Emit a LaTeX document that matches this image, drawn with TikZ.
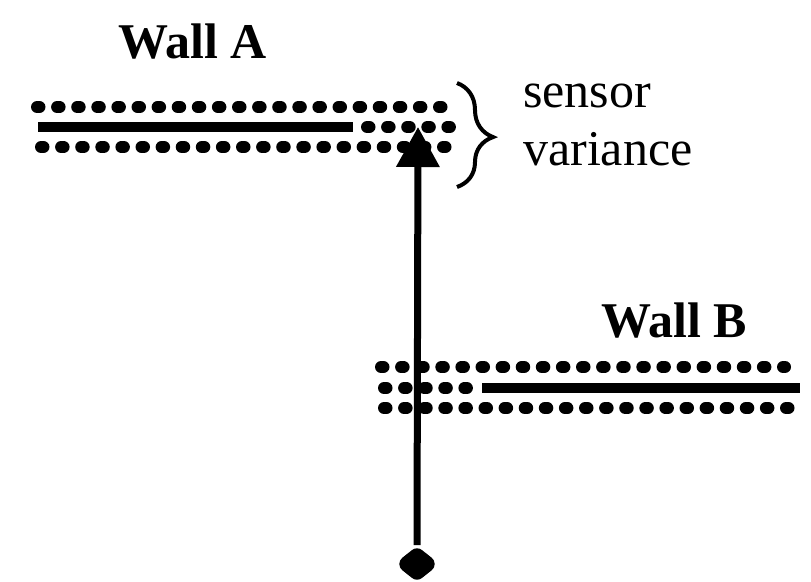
\documentclass[tikz,border=0pt]{standalone}
\usepackage{fontspec}
\setmainfont{Liberation Serif}
\usetikzlibrary{shapes.geometric, arrows.meta, positioning, decorations.pathreplacing}
\tikzset{
  wall/.style={line width=10pt},
  dotrow/.style={line width=12pt, line cap=round, dash pattern=on 2.5pt off 17.6pt},
  label/.style={font=\fontsize{50}{60}\selectfont, inner sep=0pt},
  wallname/.style={label, font=\fontsize{50}{60}\selectfont\bfseries},
  robot/.style={diamond, draw, fill=white, line width=16pt, line join=round, minimum width=26pt, minimum height=22pt, inner sep=0pt},
  ray/.style={line width=7pt, -{Triangle[length=40pt, width=42pt]}},
}

\begin{document}
\begin{tikzpicture}[x=1pt, y=-1pt]
  \useasboundingbox (0,0) rectangle (811,581);

  % Wall A
  \node[wallname, anchor=base west] (wallA) at (118,58) {Wall A};
  \draw[dotrow] (37,107) -- (442,107);
  \draw[wall] (38,127) -- (353,127);
  \draw[dotrow] (367,127) -- (452,127);
  \draw[dotrow] (41,147) -- (446,147);

  % sensor variance brace
  \coordinate (bt) at (457,83);
  \coordinate (bb) at (457,187);
  \draw[line width=4pt, decorate, decoration={brace, amplitude=36pt, aspect=0.52}] (bt) -- (bb);
  \node[label, anchor=base west] (sensor) at (523,107) {sensor};
  \node[label, anchor=base west] (variance) at (523,165) {variance};

  % Wall B
  \node[wallname, anchor=base west] (wallB) at (601,337) {Wall B};
  \draw[dotrow] (381,367) -- (785,367);
  \draw[dotrow] (384,388) -- (469,388);
  \draw[wall] (482,388) -- (800,388);
  \draw[dotrow] (384,408) -- (795,408);

  % robot and range reading
  \node[robot] (rob) at (417,564) {};
  \coordinate (hit) at (418,127);
  \draw[ray] (rob.north) -- (hit);
\end{tikzpicture}
\end{document}
